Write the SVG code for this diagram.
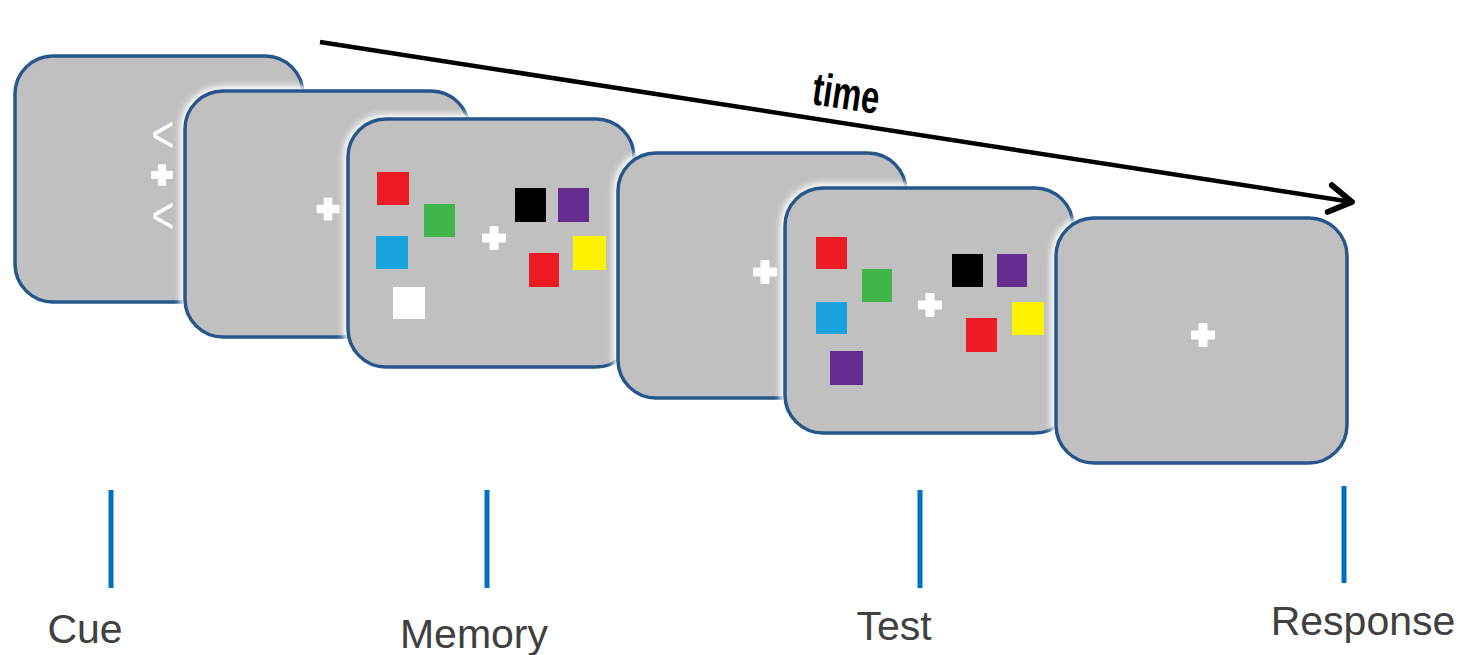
<svg xmlns="http://www.w3.org/2000/svg" width="1463" height="655" viewBox="0 0 1463 655">
<style>
.halo{fill:none;stroke:#ffffff;stroke-width:10;filter:url(#blur)}
.card{fill:#c0c0c0;stroke:#27568a;stroke-width:3.5}
.fix{fill:#ffffff}
.tick{stroke:#0070c0;stroke-width:5}
.lbl{font-family:"Liberation Sans",Arial,sans-serif;font-size:41px;fill:#404040}
.chev{font-family:"Liberation Sans",Arial,sans-serif;font-size:52px;fill:#ffffff}
</style>
<defs>
<filter id="blur" x="-10%" y="-10%" width="120%" height="120%"><feGaussianBlur stdDeviation="3"/></filter>
<path id="cross" d="M-4.5,-11 Q-4.5,-12 -3.5,-12 H3.5 Q4.5,-12 4.5,-11 V-4.5 H11 Q12,-4.5 12,-3.5 V3.5 Q12,4.5 11,4.5 H4.5 V11 Q4.5,12 3.5,12 H-3.5 Q-4.5,12 -4.5,11 V4.5 H-11 Q-12,4.5 -12,3.5 V-3.5 Q-12,-4.5 -11,-4.5 H-4.5 Z"/>
<marker id="head" markerWidth="8" markerHeight="8" refX="6" refY="4" orient="auto" markerUnits="strokeWidth">
<path d="M1,1 L6,4 L1,7" fill="none" stroke="#000" stroke-width="1.3" stroke-linecap="round" stroke-linejoin="round"/>
</marker>
</defs>
<rect width="1463" height="655" fill="#ffffff"/>

<g id="cards">
<g id="cue-screen">
<rect class="halo" x="15" y="56" width="288" height="246" rx="38"/>
<rect class="card" x="15" y="56" width="288" height="246" rx="38"/>
<text class="chev" text-anchor="middle" transform="translate(163,152) scale(0.75,1)">&lt;</text>
<use href="#cross" class="fix" transform="translate(162,175) scale(0.9)"/>
<text class="chev" text-anchor="middle" transform="translate(163,233) scale(0.75,1)">&lt;</text>
</g>
<g id="delay1-screen">
<rect class="halo" x="185" y="91" width="284" height="246" rx="38"/>
<rect class="card" x="185" y="91" width="284" height="246" rx="38"/>
<use href="#cross" class="fix" transform="translate(328,209) scale(0.95)"/>
</g>
<g id="memory-screen">
<rect class="halo" x="348" y="119" width="286" height="248" rx="38"/>
<rect class="card" x="348" y="119" width="286" height="248" rx="38"/>
<rect x="377" y="172" width="32" height="33" fill="#ed1c24"/>
<rect x="424" y="204" width="31" height="33" fill="#3fb54a"/>
<rect x="376" y="236" width="32" height="33" fill="#19a4e0"/>
<rect x="393" y="287" width="32" height="32" fill="#ffffff"/>
<rect x="515" y="188" width="31" height="34" fill="#000000"/>
<rect x="558" y="188" width="31" height="34" fill="#662d91"/>
<rect x="573" y="236" width="33" height="34" fill="#fff200"/>
<rect x="529" y="253" width="30" height="34" fill="#ed1c24"/>
<use href="#cross" class="fix" transform="translate(494,238)"/>
</g>
<g id="delay2-screen">
<rect class="halo" x="618" y="153" width="288" height="245" rx="38"/>
<rect class="card" x="618" y="153" width="288" height="245" rx="38"/>
<use href="#cross" class="fix" transform="translate(765,272)"/>
</g>
<g id="test-screen">
<rect class="halo" x="785" y="188" width="288" height="245" rx="38"/>
<rect class="card" x="785" y="188" width="288" height="245" rx="38"/>
<rect x="816" y="237" width="31" height="32" fill="#ed1c24"/>
<rect x="862" y="269" width="30" height="33" fill="#3fb54a"/>
<rect x="816" y="302" width="31" height="32" fill="#19a4e0"/>
<rect x="830" y="351" width="33" height="34" fill="#662d91"/>
<rect x="952" y="254" width="31" height="33" fill="#000000"/>
<rect x="997" y="254" width="30" height="33" fill="#662d91"/>
<rect x="1012" y="302" width="32" height="33" fill="#fff200"/>
<rect x="966" y="318" width="31" height="34" fill="#ed1c24"/>
<use href="#cross" class="fix" transform="translate(930,305)"/>
</g>
<g id="response-screen">
<rect class="halo" x="1056" y="218" width="291" height="245" rx="38"/>
<rect class="card" x="1056" y="218" width="291" height="245" rx="38"/>
<use href="#cross" class="fix" transform="translate(1203,335)"/>
</g>
</g>

<g id="connectors">
<line x1="320" y1="42" x2="1352" y2="202" stroke="#000" stroke-width="4.5" marker-end="url(#head)"/>
</g>
<g id="time-label">
<text x="844" y="109" text-anchor="middle" transform="rotate(8.5 844 109)" font-family="'Liberation Sans',Arial,sans-serif" font-weight="bold" font-size="46" textLength="67" lengthAdjust="spacingAndGlyphs" fill="#000">time</text>
</g>

<g id="event-markers">
<line class="tick" x1="111" y1="490" x2="111" y2="588"/>
<line class="tick" x1="487" y1="490" x2="487" y2="588"/>
<line class="tick" x1="920" y1="490" x2="920" y2="588"/>
<line class="tick" x1="1344" y1="486" x2="1344" y2="583"/>
</g>
<g id="labels">
<text class="lbl" x="85" y="643" text-anchor="middle">Cue</text>
<text class="lbl" x="474" y="648" text-anchor="middle">Memory</text>
<text class="lbl" x="894" y="640" text-anchor="middle">Test</text>
<text class="lbl" x="1363" y="635" text-anchor="middle">Response</text>
</g>
</svg>
